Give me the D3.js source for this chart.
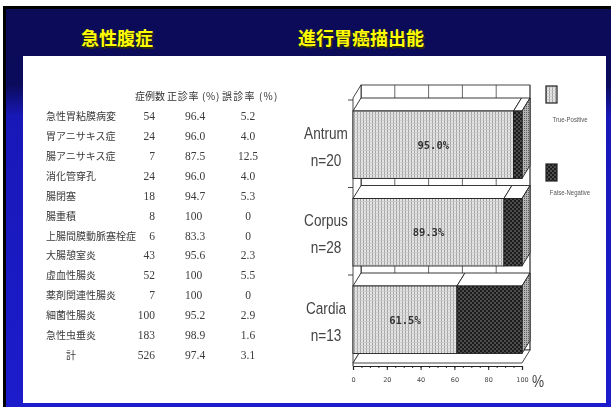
<!DOCTYPE html>
<html lang="ja">
<head>
<meta charset="utf-8">
<title>急性腹症 / 進行胃癌描出能</title>
<script src="https://cdn.jsdelivr.net/npm/d3@7"></script>
<style>
  html, body { margin: 0; padding: 0; background: #fff; }
  svg { display: block; }
</style>
</head>
<body>
<script>
// 表のデータ
const diseases = ["急性胃粘膜病変", "胃アニサキス症", "腸アニサキス症", "消化管穿孔", "腸閉塞", "腸重積",
  "上腸間膜動脈塞栓症", "大腸憩室炎", "虚血性腸炎", "薬剤関連性腸炎", "細菌性腸炎", "急性虫垂炎", "計"];
const cases = [54, 24, 7, 24, 18, 8, 6, 43, 52, 7, 100, 183, 526];
const correct = ["96.4", "96.0", "87.5", "96.0", "94.7", "100", "83.3", "95.6", "100", "100", "95.2", "98.9", "97.4"];
const wrong = ["5.2", "4.0", "12.5", "4.0", "5.3", "0", "0", "2.3", "5.5", "0", "2.9", "1.6", "3.1"];

// グラフのデータ
const sites = ["Antrum", "Corpus", "Cardia"];
const nCases = [20, 28, 13];
const truePositive = [95.0, 89.3, 61.5];
const xTicks = [0, 20, 40, 60, 80, 100];

const W = 611, H = 407;
const svg = d3.select("body").append("svg").attr("width", W).attr("height", H);
const defs = svg.append("defs");

// 背景グラデーション
const grad = defs.append("linearGradient").attr("id", "bg").attr("x1", 0).attr("y1", 0).attr("x2", 0).attr("y2", 1);
grad.append("stop").attr("offset", "0%").attr("stop-color", "#0b0b58");
grad.append("stop").attr("offset", "19%").attr("stop-color", "#0b0b5c");
grad.append("stop").attr("offset", "27%").attr("stop-color", "#1818b8");
grad.append("stop").attr("offset", "100%").attr("stop-color", "#1c1ccc");

// パターン
const tp = defs.append("pattern").attr("id", "tp").attr("patternUnits", "userSpaceOnUse").attr("width", 3).attr("height", 3);
tp.append("rect").attr("width", 3).attr("height", 3).attr("fill", "#e4e4e4");
tp.append("line").attr("x1", 0.5).attr("x2", 0.5).attr("y1", 0).attr("y2", 3).attr("stroke", "#a4a4a4").attr("stroke-width", 1);
tp.append("line").attr("x1", 0).attr("x2", 3).attr("y1", 0.5).attr("y2", 0.5).attr("stroke", "#c8c8c8").attr("stroke-width", 0.7);

const fn = defs.append("pattern").attr("id", "fn").attr("patternUnits", "userSpaceOnUse").attr("width", 4).attr("height", 4);
fn.append("rect").attr("width", 4).attr("height", 4).attr("fill", "#1e1e1e");
fn.append("circle").attr("cx", 1).attr("cy", 1).attr("r", 0.8).attr("fill", "#8a8a8a");
fn.append("circle").attr("cx", 3).attr("cy", 3).attr("r", 0.8).attr("fill", "#8a8a8a");

const sd = defs.append("pattern").attr("id", "sd").attr("patternUnits", "userSpaceOnUse").attr("width", 2).attr("height", 2);
sd.append("rect").attr("width", 2).attr("height", 2).attr("fill", "#b4b4b4");
sd.append("rect").attr("width", 1).attr("height", 1).attr("fill", "#5a5a5a");

defs.append("filter").attr("id", "soft").append("feGaussianBlur").attr("stdDeviation", 0.35);

// スライド枠
svg.append("rect").attr("x", 3).attr("y", 6).attr("width", W - 3).attr("height", H - 6).attr("fill", "#000");
svg.append("rect").attr("x", 6).attr("y", 9).attr("width", W - 6).attr("height", H - 9).attr("fill", "url(#bg)");
svg.append("rect").attr("x", 23).attr("y", 56).attr("width", 583).attr("height", 347).attr("fill", "#fff");

// タイトル
const titles = [{ t: "急性腹症", x: 117 }, { t: "進行胃癌描出能", x: 361 }];
titles.forEach(d => {
  svg.append("text").attr("x", d.x + 1.5).attr("y", 46.5).attr("text-anchor", "middle")
    .attr("font-family", "Noto Sans CJK JP").attr("font-weight", 700).attr("font-size", 18)
    .attr("fill", "#2a2a10").text(d.t);
  svg.append("text").attr("x", d.x).attr("y", 45).attr("text-anchor", "middle")
    .attr("font-family", "Noto Sans CJK JP").attr("font-weight", 700).attr("font-size", 18)
    .attr("fill", "#ffff00").text(d.t);
});

// 細長い文字（縦長の書体の代わり）
function narrowText(parent, tx, ty, str, size, fill, sx) {
  return parent.append("text")
    .attr("transform", `translate(${tx},${ty}) scale(${sx},1)`)
    .attr("text-anchor", "middle")
    .attr("font-family", "Liberation Sans").attr("font-size", size).attr("fill", fill)
    .text(str);
}

// ---- 左の表 ----
const table = svg.append("g").attr("filter", "url(#soft)");
const rowY = d3.scalePoint().domain(d3.range(diseases.length)).range([116, 355]);

const head = [{ t: "症例数", x: 135, ls: 0 }, { t: "正診率 (%)", x: 167, ls: 0.7 }, { t: "誤診率 (%)", x: 222, ls: 1.2 }];
table.selectAll("text.head").data(head).enter().append("text")
  .attr("x", d => d.x).attr("y", 100)
  .attr("letter-spacing", d => d.ls)
  .attr("font-family", "Noto Sans CJK JP").attr("font-size", 10).attr("fill", "#333")
  .text(d => d.t);

table.selectAll("text.name").data(diseases).enter().append("text")
  .attr("x", (d, i) => i === diseases.length - 1 ? 66 : 46)
  .attr("y", (d, i) => rowY(i) + 4)
  .attr("font-family", "Noto Sans CJK JP").attr("font-size", 10).attr("fill", "#3a3a3a")
  .text(d => d);

const numStyle = sel => sel.attr("font-family", "Liberation Serif").attr("font-size", 11.5).attr("fill", "#3a3a3a");

table.selectAll("text.cases").data(cases).enter().append("text")
  .attr("x", 155).attr("y", (d, i) => rowY(i) + 4).attr("text-anchor", "end")
  .call(numStyle).text(d => d);
table.selectAll("text.correct").data(correct).enter().append("text")
  .attr("x", 185).attr("y", (d, i) => rowY(i) + 4)
  .call(numStyle).text(d => d);
table.selectAll("text.wrong").data(wrong).enter().append("text")
  .attr("x", 248).attr("y", (d, i) => rowY(i) + 4).attr("text-anchor", "middle")
  .call(numStyle).text(d => d);

// ---- 右の3D横棒グラフ ----
const chart = svg.append("g").attr("filter", "url(#soft)");
const x = d3.scaleLinear().domain([0, 100]).range([353, 522]);
const y = d3.scaleBand().domain(sites).range([111, 353.5]).paddingInner(0.2286).paddingOuter(0);
const dx = 8, dy = 13;
const wallTop = 85, floorFront = 363;

const poly = pts => pts.map(p => p.join(",")).join(" ");

// 奥の壁
chart.append("rect").attr("x", x(0) + dx).attr("y", wallTop)
  .attr("width", x(100) - x(0)).attr("height", floorFront - dy - wallTop)
  .attr("fill", "#fff").attr("stroke", "#333").attr("stroke-width", 0.9);
chart.selectAll("line.grid").data(d3.range(0, 101, 20)).enter().append("line")
  .attr("x1", d => x(d) + dx).attr("x2", d => x(d) + dx)
  .attr("y1", wallTop).attr("y2", floorFront - dy)
  .attr("stroke", "#444").attr("stroke-width", 0.8);

// 左の壁
chart.append("polygon")
  .attr("points", poly([[x(0), wallTop + dy], [x(0) + dx, wallTop], [x(0) + dx, floorFront - dy], [x(0), floorFront]]))
  .attr("fill", "#fff").attr("stroke", "#333").attr("stroke-width", 0.9);

// 床
chart.append("polygon")
  .attr("points", poly([[x(0), floorFront], [x(100), floorFront], [x(100) + dx, floorFront - dy], [x(0) + dx, floorFront - dy]]))
  .attr("fill", "#fff").attr("stroke", "#333").attr("stroke-width", 0.9);

// 左側の目盛り
chart.selectAll("line.ltick").data(sites).enter().append("line")
  .attr("x1", x(0) - 5).attr("x2", x(0))
  .attr("y1", d => y(d) - 11).attr("y2", d => y(d) - 11)
  .attr("stroke", "#333").attr("stroke-width", 0.9);

sites.forEach((s, i) => {
  const top = y(s), bot = top + y.bandwidth();
  const segs = [
    { a: 0, b: truePositive[i], fill: "url(#tp)" },
    { a: truePositive[i], b: 100, fill: "url(#fn)" }
  ];
  const g = chart.append("g");
  // 上面
  segs.forEach(sg => {
    g.append("polygon")
      .attr("points", poly([[x(sg.a), top], [x(sg.b), top], [x(sg.b) + dx, top - dy], [x(sg.a) + dx, top - dy]]))
      .attr("fill", "#fff").attr("stroke", "#222").attr("stroke-width", 0.9);
  });
  // 側面
  g.append("polygon")
    .attr("points", poly([[x(100), top], [x(100) + dx, top - dy], [x(100) + dx, bot - dy], [x(100), bot]]))
    .attr("fill", "url(#sd)").attr("stroke", "#222").attr("stroke-width", 0.9);
  // 前面
  segs.forEach(sg => {
    g.append("rect").attr("x", x(sg.a)).attr("y", top)
      .attr("width", x(sg.b) - x(sg.a)).attr("height", y.bandwidth())
      .attr("fill", sg.fill).attr("stroke", "#222").attr("stroke-width", 0.9);
  });
  // 値ラベル
  g.append("text")
    .attr("x", (x(0) + x(truePositive[i])) / 2).attr("y", top + y.bandwidth() / 2 + 4)
    .attr("text-anchor", "middle")
    .attr("font-family", "DejaVu Sans Mono").attr("font-weight", 700).attr("font-size", 10.5)
    .attr("fill", "#333").text(truePositive[i].toFixed(1) + "%");
  // カテゴリ名
  const cy = top + y.bandwidth() / 2;
  narrowText(chart, 326, cy - 6, s, 17, "#444", 0.8);
  narrowText(chart, 326, cy + 21, "n=" + nCases[i], 17, "#444", 0.8);
});

// X軸
const axisY = 366;
const minor = d3.axisBottom(x).tickValues(d3.range(0, 101, 5)).tickSize(2).tickFormat("");
const major = d3.axisBottom(x).tickValues(xTicks).tickSize(4).tickPadding(7);
chart.append("g").attr("transform", `translate(0,${axisY})`).call(minor)
  .call(g => g.select(".domain").attr("stroke", "#222"))
  .call(g => g.selectAll(".tick line").attr("stroke", "#333"));
chart.append("g").attr("transform", `translate(0,${axisY})`).call(major)
  .call(g => g.select(".domain").attr("stroke", "#222").attr("stroke-width", 1.2))
  .call(g => g.selectAll(".tick line").attr("stroke", "#222"))
  .call(g => g.selectAll(".tick text").attr("font-family", "DejaVu Sans").attr("font-size", 6.5).attr("fill", "#444"));
chart.append("line").attr("x1", x(0)).attr("x2", x(0)).attr("y1", floorFront).attr("y2", axisY)
  .attr("stroke", "#222");
narrowText(chart, 538, 387, "%", 17, "#444", 0.8);

// 凡例
const legend = [{ label: "True-Positive", fill: "url(#tp)", y: 86, ty: 122 }, { label: "False-Negative", fill: "url(#fn)", y: 164, ty: 195 }];
legend.forEach(d => {
  chart.append("rect").attr("x", 546).attr("y", d.y).attr("width", 11).attr("height", 17)
    .attr("fill", d.fill).attr("stroke", "#222").attr("stroke-width", 1.2);
  narrowText(chart, 570, d.ty, d.label, 8, "#555", 0.75);
});
</script>
</body>
</html>
